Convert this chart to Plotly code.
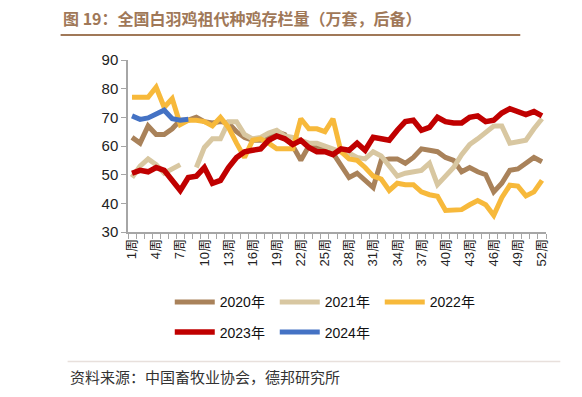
import plotly.graph_objects as go

weeks = list(range(1, 53))
tick_weeks = list(range(1, 53, 3))
tick_labels = [f"{w}周" for w in tick_weeks]

s2020 = [63, 61, 67, 64, 64, 66, 69, 69, 70, 68.5, 68, 68.5, 68, 65, 63, 62, 62, 63, 65, 64,
         60, 55, 60, 59.5, 59, 57.5, 53, 49, 50.5, 48, 45.5, 55, 55.5, 55.5, 54, 56, 59, 58.5,
         58, 56, 55, 51, 52.5, 51, 50, 44, 47, 51.5, 52, 54, 56, 54.5]
s2021 = [49, 53, 55.5, 53.5, 50.5, 52, 53.5, None, 52.5, 59.5, 62.5, 62.5, 68.5, 68.5, 64,
         62.5, 63, 64.5, 65.5, 63.5, 63, 62, 61, 61, 60, 59, 58, 57.5, 56, 55.5, 58, 56.5, 53,
         49.5, 50.5, 51, 51.5, 54, 46.5, 49.5, 52.5, 57, 60.5, 62.5, 65, 67, 67, 61, 61.5, 62,
         66, 69.5]
s2022 = [77, 77, 77, 80.5, 73.5, 76.5, 67.5, 69, 69, 68.5, 67, 70, 66.5, 61, 56, 62, 62.5, 61,
         59, 59, 59, 69.5, 66, 66, 65, 69.5, 58, 55.5, 55, 52.5, 49.5, 48.5, 44.5, 47, 46.5,
         46.5, 44, 43, 42.5, 37.5, 37.8, 37.8, 39.5, 41, 39.5, 35.8, 42, 46.3, 46, 42.6, 44, 48]
s2023 = [50.5, 51.5, 51, 52.5, 51.5, 48, 44.5, 49, 49.5, 52.5, 47, 48, 52.5, 56, 58, 58.5, 59,
         62, 63.5, 62.5, 60.5, 62, 59.5, 58, 58, 57, 59, 58.5, 61, 58.5, 63, 62.5, 62, 65.5,
         68.5, 69, 65.5, 66.5, 70, 68.5, 68, 68, 70, 70.5, 68.5, 69, 71.5, 73, 72, 71, 72, 70.5]
s2024 = [70.5, 69.3, 69.8, 71, 72.5, 69.5, 69, 69.3]

series = [
    ("2020年", s2020, "#A9825A", "legend"),
    ("2021年", s2021, "#D8C7A1", "legend"),
    ("2022年", s2022, "#F7B93B", "legend"),
    ("2023年", s2023, "#C00000", "legend2"),
    ("2024年", s2024, "#4472C4", "legend2"),
]

FONT = "Liberation Sans, Arial, Noto Sans CJK SC, sans-serif"
CJK = "Noto Sans CJK SC, sans-serif"

W, H = 582, 397
PL, PR, PT, PB = 128.3, 545.7, 60, 231.7


def px_x(px):
    return (px - PL) / (PR - PL)


def px_y(py):
    return (PB - py) / (PB - PT)


fig = go.Figure()
for name, vals, color, lg in series:
    fig.add_trace(go.Scatter(
        x=weeks[:len(vals)], y=vals, name=name, mode="lines",
        line=dict(color=color, width=5.5 if name == "2023年" else 5),
        connectgaps=False, legend=lg,
    ))

axis_color = "#A6A6A6"
legend_common = dict(orientation="h", xanchor="left", yanchor="middle",
                     entrywidth=50, entrywidthmode="pixels", itemwidth=40,
                     font=dict(family=FONT, size=14, color="#111111"),
                     bgcolor="rgba(0,0,0,0)")
fig.update_layout(
    width=W, height=H,
    margin=dict(l=PL, r=W - PR, t=PT, b=H - PB, pad=0),
    paper_bgcolor="white", plot_bgcolor="white",
    font=dict(family=FONT, color="#222222"),
    title=dict(text="<b>图 19：全国白羽鸡祖代种鸡存栏量（万套，后备）</b>",
               xref="container", x=63 / W, xanchor="left",
               yref="container", y=1 - 19.5 / H, yanchor="middle",
               pad=dict(l=0, r=0, t=0, b=0),
               font=dict(family=CJK, size=16, color="#A07858")),
    xaxis=dict(range=[0.5, 52.5], tickmode="array", tickvals=tick_weeks, ticktext=tick_labels,
               tickangle=-90, ticks="", showgrid=False, zeroline=False,
               showline=True, linecolor=axis_color, linewidth=1.5,
               tickfont=dict(family=FONT, size=13, color="#222222"),
               minor=dict(tick0=0.5, dtick=1, ticks="outside", ticklen=5,
                          tickcolor=axis_color, tickwidth=1, showgrid=False)),
    yaxis=dict(range=[30, 90], dtick=10, ticks="outside", ticklen=5, tickcolor=axis_color,
               showgrid=False, zeroline=False, showline=True, linecolor=axis_color,
               linewidth=1.5, tickfont=dict(family=FONT, size=15, color="#222222")),
    legend=dict(x=px_x(170), y=px_y(302), **legend_common),
    legend2=dict(x=px_x(170), y=px_y(332), **legend_common),
    showlegend=True,
)

fig.add_shape(type="line", xref="paper", yref="paper",
              x0=px_x(61), x1=px_x(520), y0=px_y(35), y1=px_y(35),
              line=dict(color="#A07858", width=2))
fig.add_shape(type="line", xref="paper", yref="paper",
              x0=px_x(68), x1=px_x(560), y0=px_y(361), y1=px_y(361),
              line=dict(color="#E8E0DC", width=1.5))
fig.add_annotation(text="资料来源：中国畜牧业协会，德邦研究所", xref="paper", yref="paper",
                   x=px_x(68), y=px_y(376), xanchor="left", yanchor="middle",
                   showarrow=False, font=dict(family=CJK, size=15, color="#333333"))

# remove the browser's default 8px body margin so the figure fills the window exactly
fig.write_html("out.html", config={"displayModeBar": False},
               post_script="document.body.style.margin='0';")
